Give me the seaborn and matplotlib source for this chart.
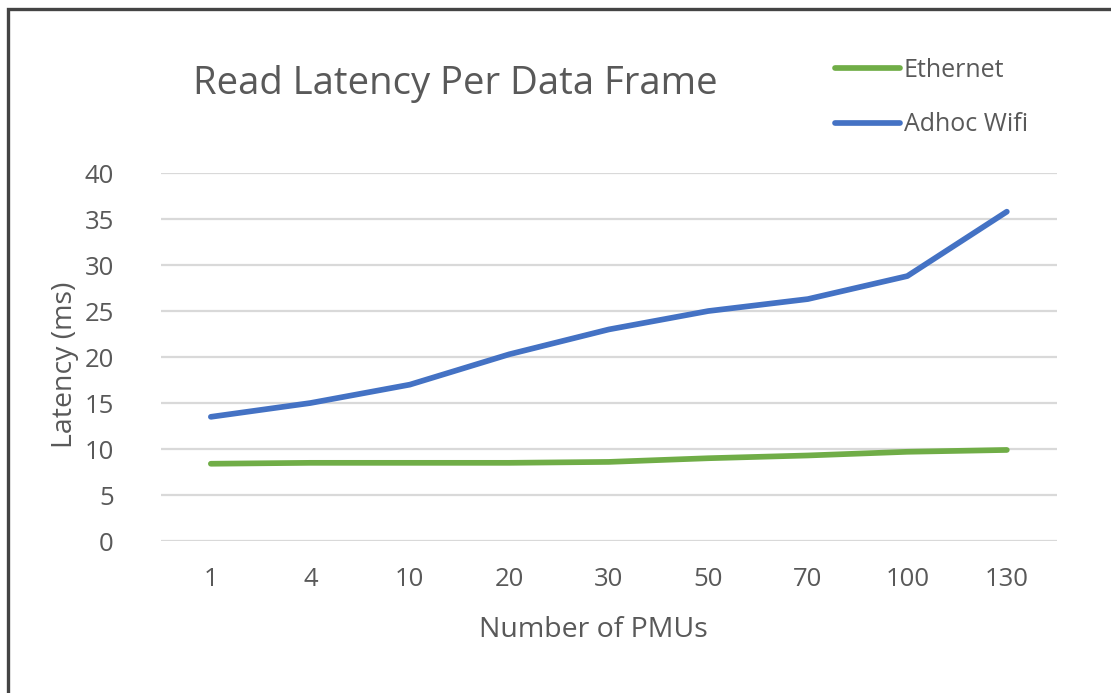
import matplotlib
matplotlib.use("Agg")

import matplotlib.pyplot as plt
import pandas as pd
import seaborn as sns
from matplotlib.patches import Rectangle

# ── Data ─────────────────────────────────────────────────────────────────────
pmus = ["1", "4", "10", "20", "30", "50", "70", "100", "130"]
ethernet_ms = [8.4, 8.5, 8.5, 8.5, 8.6, 9.0, 9.3, 9.7, 9.9]
wifi_ms = [13.5, 15.0, 17.0, 20.3, 23.0, 25.0, 26.3, 28.8, 35.8]
series_names = ["Ethernet", "Adhoc Wifi"]
y_ticks = [0, 5, 10, 15, 20, 25, 30, 35, 40]

df = pd.DataFrame({
    "pmus": pmus * 2,
    "latency": ethernet_ms + wifi_ms,
    "series": [series_names[0]] * len(pmus) + [series_names[1]] * len(pmus),
})

# ── Style ────────────────────────────────────────────────────────────────────
sns.set_theme(style="white")
plt.rcParams["font.family"] = ["Open Sans", "DejaVu Sans"]
TEXT = "#595959"
palette = {"Ethernet": "#70AD47", "Adhoc Wifi": "#4472C4"}

fig = plt.figure(figsize=(11.11, 6.93), dpi=100)
ax = fig.add_axes([0.145, 0.2193, 0.806, 0.5310])

sns.lineplot(data=df, x="pmus", y="latency", hue="series", palette=palette,
             linewidth=4.1, sort=False, ax=ax, solid_capstyle="round")

ax.set_xlim(-0.5, len(pmus) - 0.5)
ax.set_ylim(0, 40)
ax.set_yticks(y_ticks)
ax.grid(axis="y", color="#D9D9D9", linewidth=1.6)
ax.grid(axis="x", visible=False)
ax.set_axisbelow(True)
for s in ax.spines.values():
    s.set_visible(False)

ax.tick_params(axis="y", length=0, pad=34, labelsize=18.5, labelcolor=TEXT)
ax.tick_params(axis="x", length=0, pad=19, labelsize=18.5, labelcolor=TEXT)

ax.set_xlabel("Number of PMUs", fontsize=20.5, color=TEXT)
ax.set_ylabel("Latency (ms)", fontsize=20.5, color=TEXT)
ax.xaxis.set_label_coords((595 - 161) / 900, -0.205)
ax.yaxis.set_label_coords(-0.092, 0.48)

fig.text(193 / 1111, 1 - 84 / 693, "Read Latency Per Data Frame",
         fontsize=27.5, color=TEXT, ha="left", va="center")

handles, labels = ax.get_legend_handles_labels()
leg = fig.legend(handles, labels, loc="upper left",
                 bbox_to_anchor=(835 / 1111, 1 - 58 / 693), frameon=False,
                 fontsize=18, handlelength=2.6, handletextpad=0.15,
                 labelspacing=1.17, borderpad=0, borderaxespad=0)
for t in leg.get_texts():
    t.set_color(TEXT)
ax.get_legend().remove()

# outer frame (only the top and left edges fall inside the canvas)
fig.patches.append(Rectangle((7.5 / 1111, -0.2), 1.2, 1.2 - 8.5 / 693,
                             transform=fig.transFigure, fill=False,
                             edgecolor="#444444", linewidth=2.4))

fig.savefig("out.png", dpi=100)
